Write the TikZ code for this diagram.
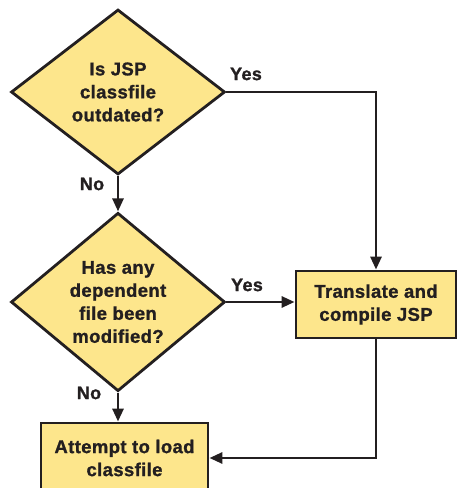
\documentclass[tikz,border=0pt]{standalone}
\usepackage{fontspec}
\setmainfont{Liberation Sans}
\newfontfamily\heavyfont[FakeBold=1.2,LetterSpace=2]{Liberation Sans Bold}
\usetikzlibrary{shapes.geometric,arrows.meta}

\definecolor{boxfill}{RGB}{253,230,140}
\definecolor{inkgray}{RGB}{35,31,32}

\tikzset{
  decision/.style={diamond, draw=inkgray, fill=boxfill, line width=2.8pt,
    minimum width=214pt, minimum height=165pt, inner sep=0pt, align=center,
    text=inkgray, font=\fontsize{18.5}{23}\heavyfont},
  process/.style={rectangle, draw=inkgray, fill=boxfill, line width=2.8pt,
    inner sep=0pt, align=center, text=inkgray,
    font=\fontsize{18.5}{23}\heavyfont},
  flow/.style={draw=inkgray, line width=2.8pt, -{Triangle[length=13pt,width=11pt]}},
  answer/.style={text=inkgray, font=\fontsize{18}{22}\heavyfont}
}

\begin{document}
\begin{tikzpicture}[x=1pt,y=1pt]
  \useasboundingbox (0,0) rectangle (459,488);
  \clip (0,0) rectangle (459,488);

  % questions
  \node[decision] (outdated) at (118,396) {Is JSP\\classfile\\outdated?};
  \node[decision] (modified) at (118,186) {Has any\\dependent\\file been\\modified?};

  % actions
  \node[process, minimum width=160pt, minimum height=67pt] (compile) at (376,183.5)
    {Translate and\\compile JSP};
  \node[process, minimum width=167pt, minimum height=70pt] (load) at (124.5,30)
    {Attempt to load\\classfile};

  % connectors
  \draw[flow] (outdated.south) -- (modified.north);
  \draw[flow] (outdated.east) -| (compile.north);
  \draw[flow] (modified.east) -- (modified.east -| compile.west);
  \draw[flow] (modified.south) -- (modified.south |- load.north);
  \draw[flow] (compile.south) |- (load.east);

  % answers
  \node[answer] (yesfirst) at (246,414) {Yes};
  \node[answer] (nofirst) at (92,304) {No};
  \node[answer] (yessecond) at (247,203) {Yes};
  \node[answer] (nosecond) at (89,95) {No};
\end{tikzpicture}
\end{document}
